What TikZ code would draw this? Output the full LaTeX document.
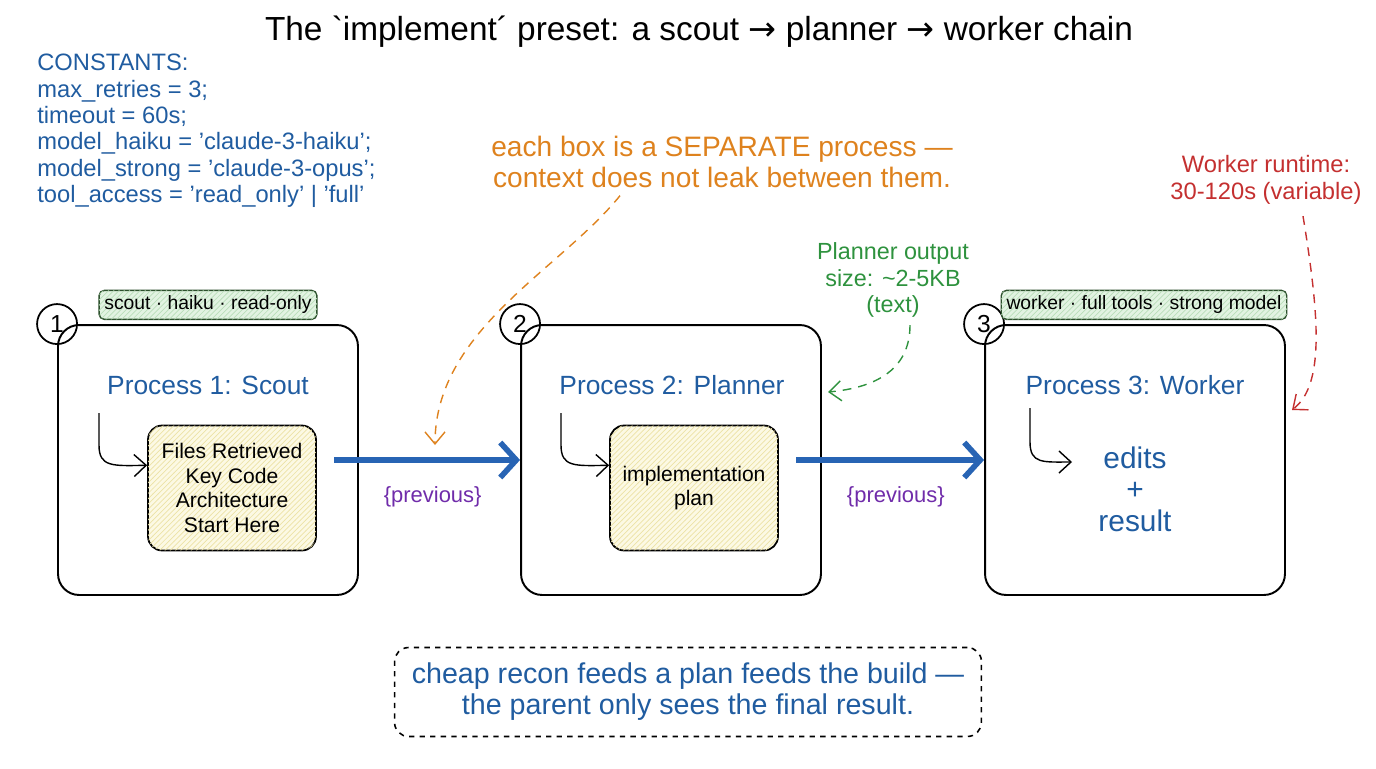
\documentclass[tikz,border=0pt]{standalone}
\usepackage{fontspec}
\setmainfont{Liberation Sans}
\newfontfamily\arrowfont{DejaVu Sans}
\usetikzlibrary{arrows.meta,positioning,patterns,calc}
\definecolor{SKblue}{RGB}{32,92,160}
\definecolor{SKarrow}{RGB}{40,100,180}
\definecolor{SKorange}{RGB}{222,130,30}
\definecolor{SKred}{RGB}{196,48,48}
\definecolor{SKgreen}{RGB}{46,146,62}
\definecolor{SKpurple}{RGB}{112,44,170}
\definecolor{SKtagfill}{RGB}{226,243,226}
\definecolor{SKtaghatch}{RGB}{186,222,186}
\definecolor{SKtagline}{RGB}{44,80,44}
\definecolor{SKyellow}{RGB}{252,249,228}
\definecolor{SKhatch}{RGB}{236,226,166}
\tikzset{
  procbox/.style={draw=black,line width=1.1pt,rounded corners=12pt,
                  minimum width=6cm,minimum height=5.4cm},
  hint/.style={draw=black,line width=1pt,rounded corners=8pt,fill=SKyellow,
               postaction={pattern=north east lines,pattern color=SKhatch},
               minimum width=3.36cm,minimum height=2.5cm,align=center,
               font=\fontsize{12}{14}\selectfont},
  tag/.style={draw=SKtagline,line width=0.8pt,rounded corners=3pt,fill=SKtagfill,
              postaction={pattern=north east lines,pattern color=SKtaghatch},
              inner sep=3pt,minimum height=0.58cm,font=\fontsize{11}{13}\selectfont},
  numcirc/.style={circle,draw=black,line width=1pt,minimum size=0.8cm,inner sep=0pt,
                  font=\fontsize{14}{16}\selectfont},
  ptitle/.style={text=SKblue,font=\fontsize{15}{18}\selectfont},
  flow/.style={-{Straight Barb[length=3.2mm,width=7mm]},line width=3.2pt,draw=SKarrow},
  hook/.style={-{Straight Barb[length=2.4mm,width=4.4mm]},line width=0.8pt},
  ann/.style={-{Straight Barb[length=2.4mm,width=4mm]},line width=0.8pt,
              dash pattern=on 5pt off 4pt},
  prevlbl/.style={text=SKpurple,font=\fontsize{12.5}{14}\selectfont},
  note/.style={align=center,inner sep=2pt}
}
\begin{document}
\begin{tikzpicture}[x=0.02cm,y=-0.02cm]
  \useasboundingbox (0,0) rectangle (1376,768);
  % title and constants
  \node (title) at (699,32) {\fontsize{19}{22}\selectfont The \textasciigrave implement\textasciiacute\ preset: a scout {\arrowfont →} planner {\arrowfont →} worker chain};
  \node[anchor=north west,align=left,inner sep=0pt,text=SKblue,font=\fontsize{13.5}{15}\selectfont] (consts) at (37,54)
    {CONSTANTS:\\max\_retries = 3;\\timeout = 60s;\\model\_haiku = 'claude-3-haiku';\\model\_strong = 'claude-3-opus';\\tool\_access = 'read\_only' | 'full'};

  % the three processes
  \node[procbox] (proc1) at (208,460) {};
  \node[procbox] (proc2) at (671,460) {};
  \node[procbox] (proc3) at (1135,460) {};
  \node[numcirc] (n1) at (proc1.north west) {1};
  \node[numcirc] (n2) at (proc2.north west) {2};
  \node[numcirc] (n3) at (proc3.north west) {3};
  \node[tag,above=0.08cm of proc1] (tag1) {scout · haiku · read-only};
  \node[tag,above=0.08cm of proc3,xshift=0.18cm] (tag3) {worker · full tools · strong model};
  \node[ptitle] (t1) at (208,385) {Process 1: Scout};
  \node[ptitle] (t2) at (672,385) {Process 2: Planner};
  \node[ptitle] (t3) at (1135,385) {Process 3: Worker};
  \node[hint] (hint1) at (232,488) {Files Retrieved\\Key Code\\Architecture\\Start Here};
  \node[hint] (hint2) at (694,488) {implementation\\plan};
  \node[align=center,text=SKblue,font=\fontsize{17}{18}\selectfont] (res) at (1135,489) {edits\\+\\result};

  % hooks
  \coordinate (h1) at (99,413);
  \coordinate (h2) at (561,413);
  \coordinate (h3) at (1030,408);
  \coordinate (h3e) at (1072,462);
  \draw[hook] (h1) -- (99,445) .. controls (99,467) and (112,466) .. (hint1.165);
  \draw[hook] (h2) -- (561,445) .. controls (561,467) and (574,466) .. (hint2.165);
  \draw[hook] (h3) -- (1030,442) .. controls (1030,464) and (1043,462) .. (h3e);

  % hand-offs
  \draw[flow,shorten <=10pt] (hint1.east |- proc1.east) -- (proc2.west)
    node[prevlbl,pos=0.57,below=10pt] (prev1) {\{previous\}};
  \draw[flow,shorten <=10pt] (hint2.east |- proc2.east) -- (proc3.west)
    node[prevlbl,pos=0.57,below=10pt] (prev2) {\{previous\}};

  % annotations
  \node[note,text=SKorange,font=\fontsize{16}{17.6}\selectfont] (onote) at (722,162)
    {each box is a SEPARATE process ---\\context does not leak between them.};
  \node[note,text=SKgreen,font=\fontsize{13.3}{15}\selectfont] (gnote) at (893,280)
    {Planner output\\size: \textasciitilde 2-5KB\\(text)};
  \node[note,text=SKred,font=\fontsize{13.5}{15}\selectfont] (rnote) at (1266,180)
    {Worker runtime:\\30-120s (variable)};
  \coordinate (tgtA) at (435,445);
  \coordinate (tgtB) at (828,392);
  \coordinate (tgtC) at (1292,410);
  \draw[ann,draw=SKorange] ($(onote.south)+(-102,4)$) .. controls (560,270) and (435,330) .. (tgtA);
  \draw[ann,draw=SKgreen] ($(gnote.south)+(17,4)$) .. controls (910,372) and (872,388) .. (tgtB);
  \draw[ann,draw=SKred] ($(rnote.south)+(37,8)$) .. controls (1320,320) and (1324,385) .. (tgtC);

  % summary
  \node[draw=black,line width=0.9pt,dashed,rounded corners=8pt,minimum width=11.74cm,
        minimum height=1.78cm,align=center,text=SKblue,font=\fontsize{16.3}{17.6}\selectfont]
        (summary) at (688,692)
    {cheap recon feeds a plan feeds the build ---\\the parent only sees the final result.};
\end{tikzpicture}
\end{document}
